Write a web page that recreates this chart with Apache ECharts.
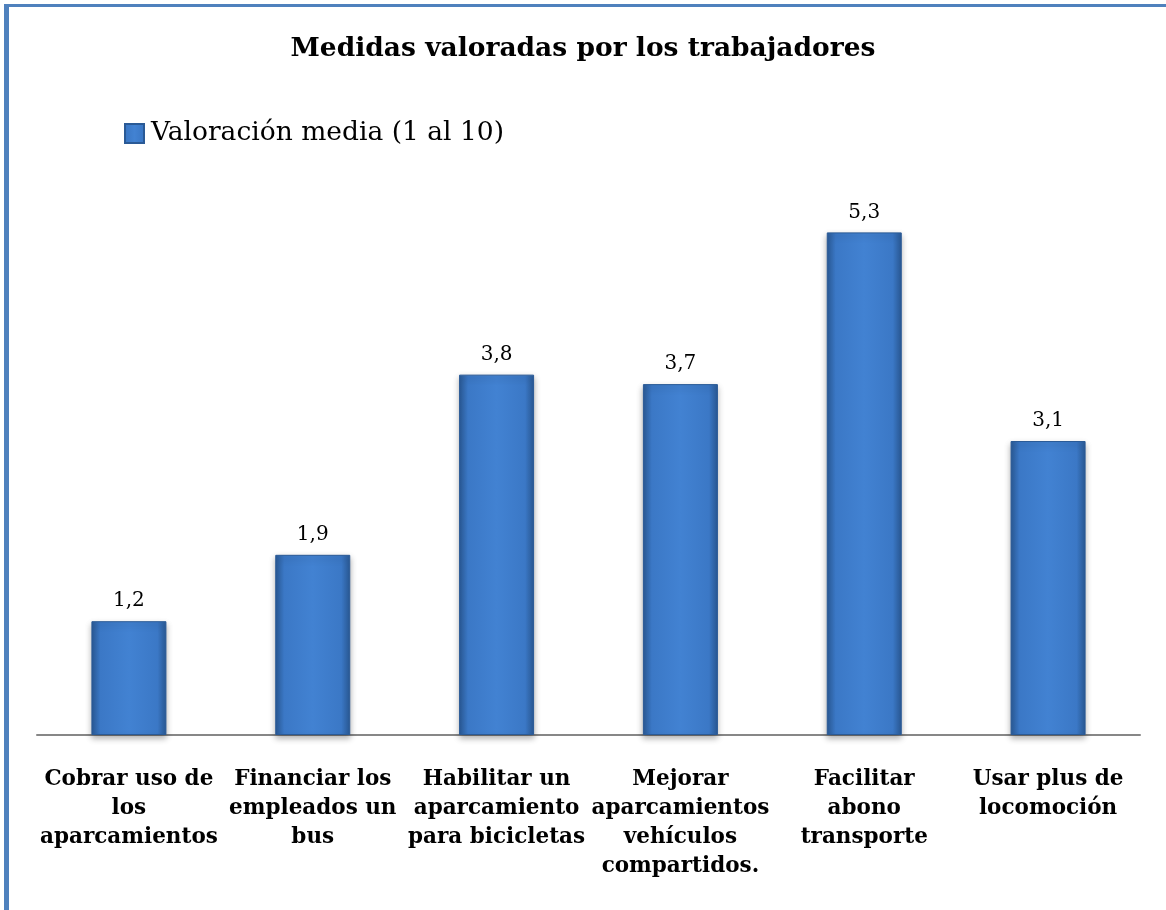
<!DOCTYPE html>
<html>
<head>
<meta charset="utf-8">
<script src="https://cdn.jsdelivr.net/npm/echarts@6/dist/echarts.min.js"></script>
<style>
  html, body { margin: 0; padding: 0; background: #fff; }
  #chart { width: 1166px; height: 910px; }
</style>
</head>
<body>
<div id="chart"></div>
<script>
// categorias (con los saltos de linea del original)
const categorias = [
  'Cobrar uso de\nlos\naparcamientos',
  'Financiar los\nempleados un\nbus',
  'Habilitar un\naparcamiento\npara bicicletas',
  'Mejorar\naparcamientos\nvehículos\ncompartidos.',
  'Facilitar\nabono\ntransporte',
  'Usar plus de\nlocomoción'
];
const valoracion = [1.2, 1.9, 3.8, 3.7, 5.3, 3.1];
const serieNombre = 'Valoración media (1 al 10)';
const titulo = 'Medidas valoradas por los trabajadores';

const fuente = "'DejaVu Serif', 'Liberation Serif', serif";

const barColor = new echarts.graphic.LinearGradient(0, 0, 1, 0, [
  { offset: 0, color: '#2a5a96' },
  { offset: 0.12, color: '#3b78c6' },
  { offset: 0.5, color: '#4282d2' },
  { offset: 0.88, color: '#3b78c6' },
  { offset: 1, color: '#2a5a96' }
]);

const chart = echarts.init(document.getElementById('chart'));
chart.setOption({
  backgroundColor: '#fff',
  animation: false,
  title: {
    text: titulo,
    left: 'center',
    top: 31,
    textStyle: { fontFamily: fuente, fontSize: 26.5, fontWeight: 'bold', color: '#000' }
  },
  legend: {
    left: 119,
    top: 115,
    itemWidth: 19,
    itemHeight: 19,
    itemGap: 5,
    icon: 'rect',
    textStyle: { fontFamily: fuente, fontSize: 26.5, color: '#000', padding: [0, 0, 0, 2] },
    data: [serieNombre]
  },
  graphic: [
    { type: 'rect', shape: { x: 4, y: 4, width: 5, height: 906 }, style: { fill: '#4f81bd' } },
    { type: 'rect', shape: { x: 4, y: 4, width: 1162, height: 3 }, style: { fill: '#4f81bd' } }
  ],
  grid: { left: 37, right: 26, top: 166, bottom: 175 },
  xAxis: {
    type: 'category',
    data: categorias,
    axisLine: { lineStyle: { color: '#878787', width: 2 } },
    axisTick: { show: false },
    axisLabel: {
      interval: 0,
      margin: 30,
      lineHeight: 29,
      fontFamily: fuente,
      fontSize: 21.5,
      fontWeight: 'bold',
      color: '#000'
    }
  },
  yAxis: {
    type: 'value',
    min: 0,
    max: 6,
    show: false,
    splitLine: { show: false }
  },
  series: [{
    name: serieNombre,
    type: 'bar',
    data: valoracion,
    barWidth: 75,
    itemStyle: {
      color: barColor,
      borderColor: '#2a5a96',
      borderWidth: 1,
      shadowColor: 'rgba(0,0,0,0.3)',
      shadowBlur: 6,
      shadowOffsetY: 3
    },
    label: {
      show: true,
      position: 'top',
      distance: 10,
      fontFamily: fuente,
      fontSize: 20,
      color: '#000',
      formatter: p => p.value.toFixed(1).replace('.', ',')
    }
  }]
});
</script>
</body>
</html>
